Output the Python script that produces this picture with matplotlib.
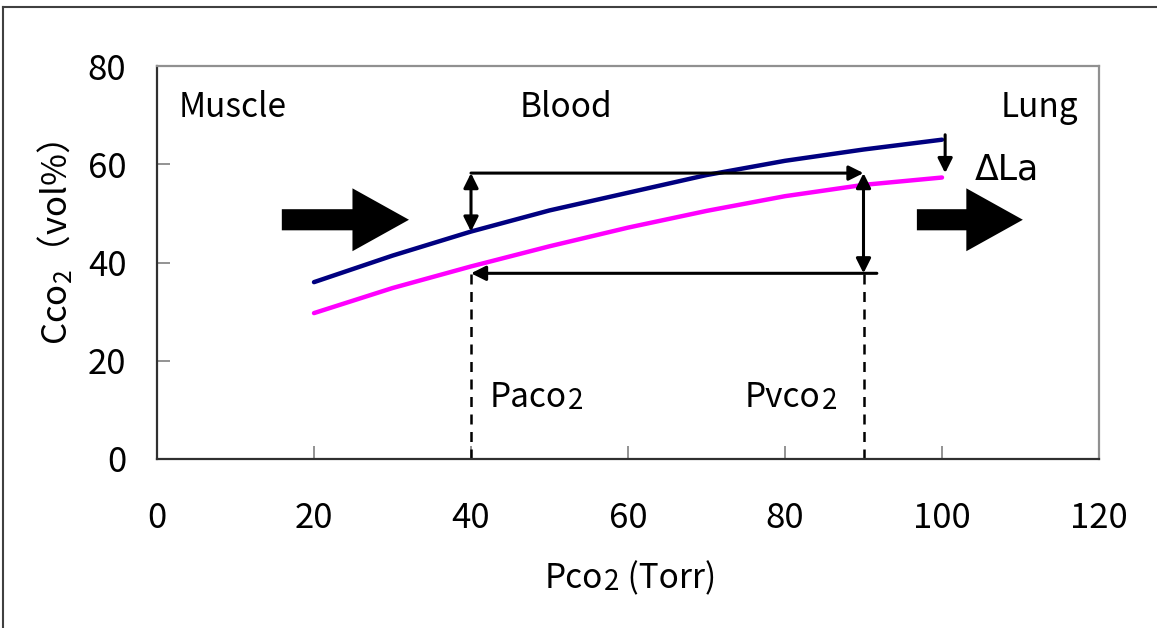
import numpy as np
import matplotlib
matplotlib.use('Agg')
import matplotlib.pyplot as plt
from matplotlib.lines import Line2D
from matplotlib.patches import FancyArrow
from matplotlib.transforms import offset_copy

plt.rcParams['font.family'] = ['Noto Sans CJK JP', 'DejaVu Sans']
plt.rcParams['mathtext.fontset'] = 'custom'
plt.rcParams['mathtext.rm'] = 'Noto Sans CJK JP'
plt.rcParams['mathtext.default'] = 'rm'

# CO2 dissociation curves (content vs partial pressure)
pco2 = [20, 30, 40, 50, 60, 70, 80, 90, 100]
cco2_upper = [36.0, 41.4, 46.3, 50.6, 54.2, 57.8, 60.7, 63.0, 65.0]
cco2_lower = [29.7, 34.8, 39.2, 43.3, 47.1, 50.5, 53.5, 55.8, 57.3]

pa_co2 = 40
pv_co2 = 90
c_high = 58.2
c_low = 37.8

x_ticks = [0, 20, 40, 60, 80, 100, 120]
y_ticks = [0, 20, 40, 60, 80]

fig = plt.figure(figsize=(11.57, 6.28), dpi=100)
ax = fig.add_axes([157 / 1157, 1 - 459 / 628, 942 / 1157, 393 / 628])
renderer = fig.canvas.get_renderer()


def chain(x, y, parts, trans):
    """Write text pieces one after another; each piece is (text, size, drop)."""
    adv = 0.0
    for s, size, drop in parts:
        tr = offset_copy(trans, fig=fig, x=adv, y=-drop, units='points')
        t = ax.text(x, y, s, fontsize=size, ha='left', va='baseline',
                    transform=tr)
        adv += t.get_window_extent(renderer).width * 72 / fig.dpi + 0.5


ax.plot(pco2, cco2_upper, color='#000080', lw=3.2, solid_capstyle='round')
ax.plot(pco2, cco2_lower, color='#ff00ff', lw=3.2, solid_capstyle='round')

ax.set_xlim(0, 120)
ax.set_ylim(0, 80)
ax.set_xticks(x_ticks)
ax.set_yticks(y_ticks)
ax.tick_params(direction='in', length=9.5, width=1.2, color='#808080',
               labelsize=25)
ax.tick_params(axis='x', pad=30)
ax.tick_params(axis='y', pad=22)
for s in ['left', 'bottom']:
    ax.spines[s].set_color('#303030')
    ax.spines[s].set_linewidth(1.6)
for s in ['top', 'right']:
    ax.spines[s].set_color('#909090')
    ax.spines[s].set_linewidth(1.6)

# axis titles
fig_tr = fig.transFigure
chain(545 / 1157, 1 - 588 / 628,
      [('Pco', 24, 0), ('2', 20, 1.5), (' (Torr)', 24, 0)], fig_tr)
fig.text(55 / 1157, 1 - 243 / 628, 'Cco$_2$（vol%）', fontsize=25,
         rotation=90, ha='center', va='center')

# arterio-venous loop
arrow_kw = dict(color='black', lw=2.2, shrinkA=0, shrinkB=0, mutation_scale=22)
ax.annotate('', xy=(pv_co2, c_high), xytext=(pa_co2, c_high),
            arrowprops=dict(arrowstyle='-|>', **arrow_kw))
ax.annotate('', xy=(pa_co2, c_low), xytext=(pv_co2 + 1.7, c_low),
            arrowprops=dict(arrowstyle='-|>', **arrow_kw))
ax.annotate('', xy=(pa_co2, cco2_upper[2]), xytext=(pa_co2, c_high),
            arrowprops=dict(arrowstyle='<|-|>', **arrow_kw))
ax.annotate('', xy=(pv_co2, c_low), xytext=(pv_co2, c_high),
            arrowprops=dict(arrowstyle='<|-|>', **arrow_kw))
ax.annotate('', xy=(100.4, 58.2), xytext=(100.4, 66.0),
            arrowprops=dict(arrowstyle='-|>', **arrow_kw))

ax.plot([pa_co2, pa_co2], [0, c_low], color='black', lw=1.8, ls=(0, (4, 3)))
ax.plot([pv_co2, pv_co2], [0, c_low], color='black', lw=1.8, ls=(0, (4, 3)))

# flow direction block arrows
for x0, length in [(15.9, 16.2), (96.8, 13.5)]:
    ax.add_patch(FancyArrow(x0, 48.7, length, 0, width=4.3, head_width=12.8,
                            head_length=7.2, length_includes_head=True,
                            color='black', lw=0))

ax.text(2.7, 71.5, 'Muscle', fontsize=24, va='center', ha='left')
ax.text(46.2, 71.5, 'Blood', fontsize=24, va='center', ha='left')
ax.text(117.3, 71.5, 'Lung', fontsize=24, va='center', ha='right')
ax.text(104.2, 59.0, 'ΔLa', fontsize=25, va='center', ha='left',
        family=['DejaVu Sans'])
chain(42.4, 10.6, [('Paco', 24, 0), ('2', 20, 1.5)], ax.transData)
chain(74.9, 10.6, [('Pvco', 24, 0), ('2', 20, 1.5)], ax.transData)

# outer frame
fig.add_artist(Line2D([3 / 1157, 3 / 1157], [0, 1 - 7 / 628],
                      transform=fig.transFigure, color='#404040', lw=1.5))
fig.add_artist(Line2D([3 / 1157, 1], [1 - 7 / 628, 1 - 7 / 628],
                      transform=fig.transFigure, color='#404040', lw=1.5))

fig.savefig('out.png', dpi=100, facecolor='white')
